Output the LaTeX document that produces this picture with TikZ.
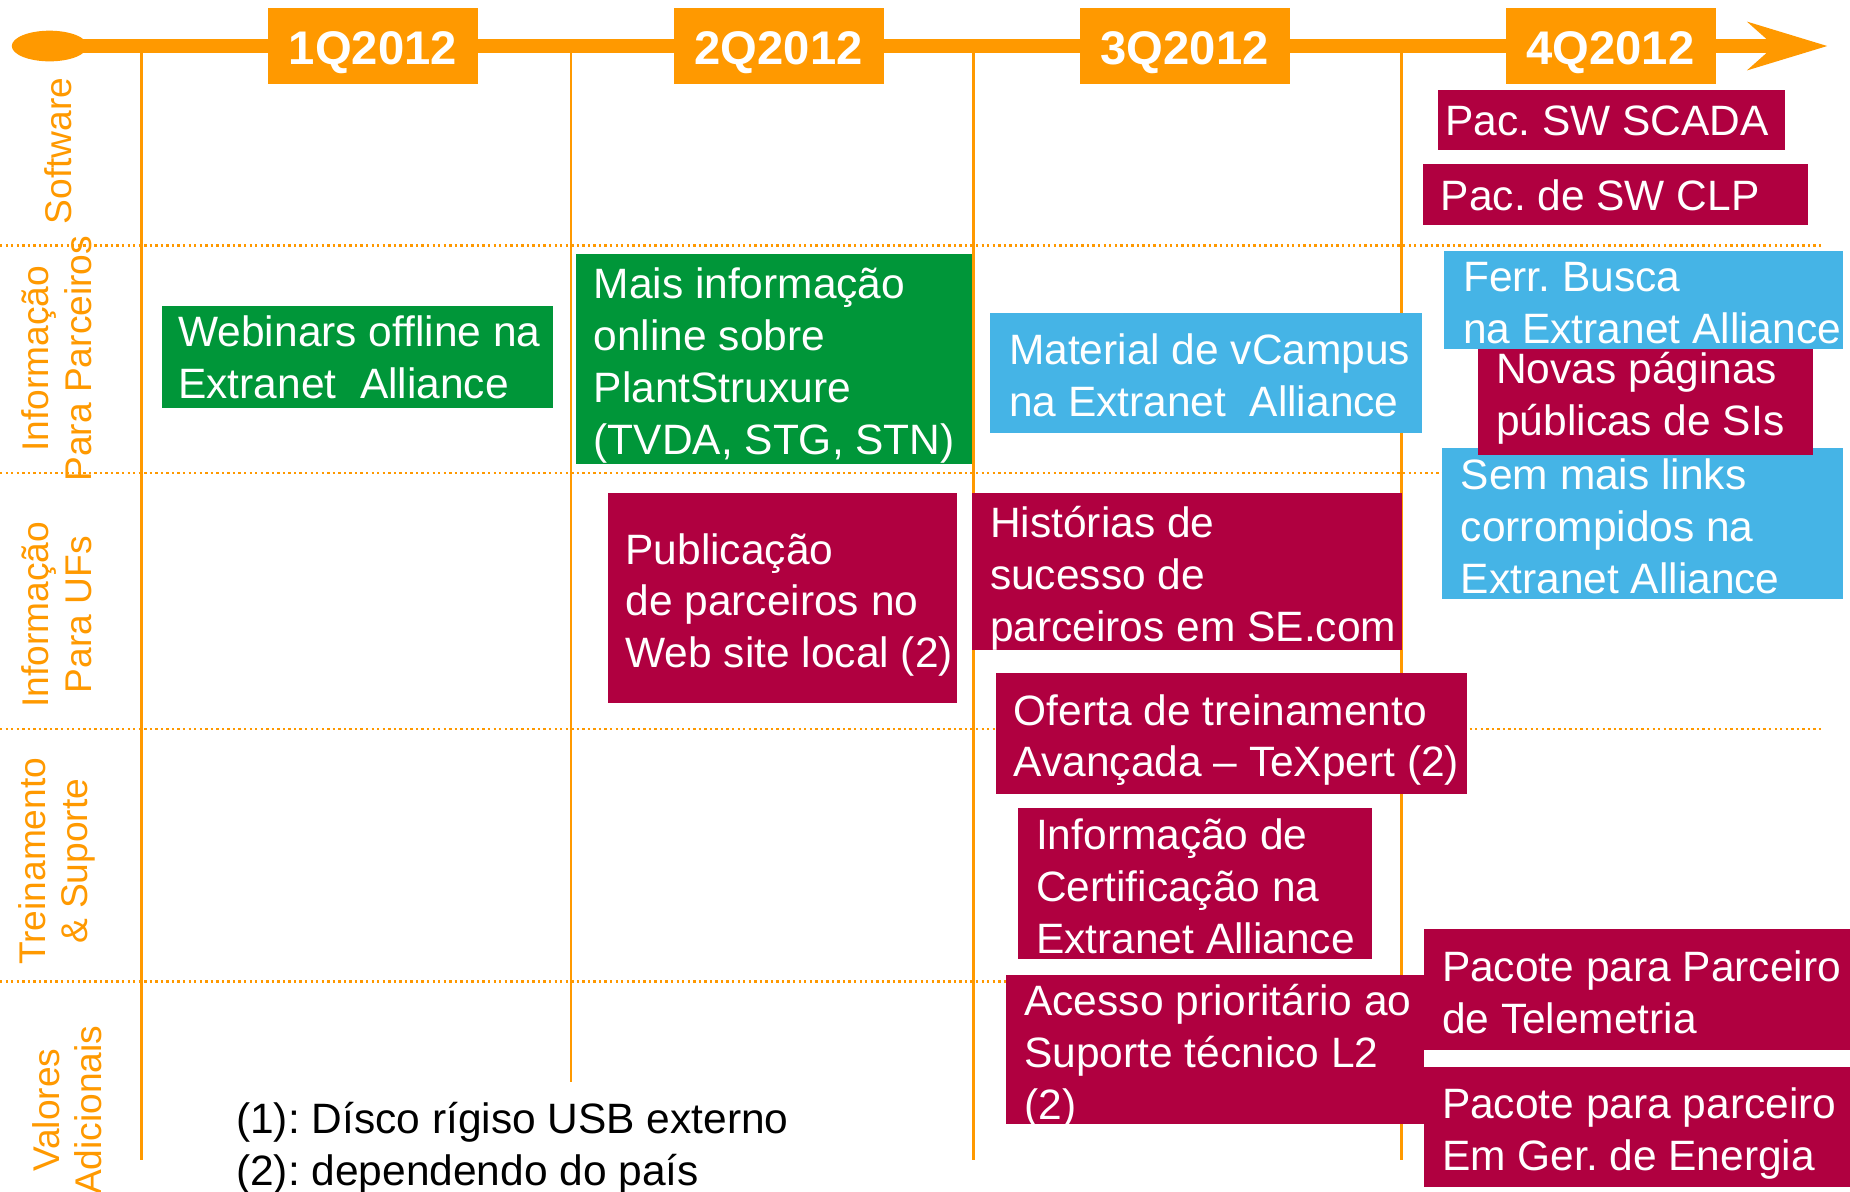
\documentclass[tikz,border=0pt]{standalone}
\usepackage{fontspec}
\setmainfont{Liberation Sans}
\usetikzlibrary{positioning}
\usetikzlibrary{shapes.geometric}
\usetikzlibrary{arrows.meta}
\frenchspacing

\definecolor{tlorange}{RGB}{255,153,0}
\definecolor{boxgreen}{RGB}{0,150,57}
\definecolor{boxred}{RGB}{176,0,64}
\definecolor{boxblue}{RGB}{69,180,230}
\newcommand\cardfont{\fontsize{36}{44}\selectfont}
\newcommand\rowfont{\fontsize{31.5}{36}\selectfont}

\tikzset{
 card/.style={anchor=north west, inner sep=0, outer sep=0},
 cardtxt/.style={align=left, inner sep=0, text=white, font=\cardfont, yshift=-7pt,
   execute at begin node={\rule{0pt}{36pt}}, execute at end node={\rule[-10pt]{0pt}{10pt}}},
 qbox/.style={fill=tlorange, text=white, font=\bfseries\fontsize{40}{48}\selectfont, minimum width=178, minimum height=65, inner sep=0, text height=31pt, text depth=0pt},
 rowlab/.style={rotate=90, align=center, inner sep=0, text=tlorange, font=\rowfont},
 vline/.style={tlorange, line width=2.4},
 rowsep/.style={tlorange, line width=2, dash pattern=on 2 off 2.7},
}

\begin{document}
\begin{tikzpicture}[x=1pt, y=-1pt]
\useasboundingbox (0,0) rectangle (1568,1010);
% grid of quarters and rows
\foreach \x/\e in {120/983, 484/917, 825/983, 1188/983}
 \draw[vline] (\x,39) -- (\x,\e);
\foreach \y in {208,401,618,832}
 \draw[rowsep] (0,\y) -- (1545,\y);
% time line
\node[ellipse, fill=tlorange, minimum width=64, minimum height=26, inner sep=0] (start) at (42,39) {};
\coordinate (tip) at (1549,39);
\draw[tlorange, line width=12.5, -{Stealth[length=67pt, width=40pt, inset=22pt]}] (start.center) -- (tip);
\foreach \q/\x in {1/316, 2/660, 3/1004, 4/1365}
 \node[qbox] (q\q) at (\x,39) {\q Q2012};
% row labels
\node[rowlab] (software) at (49,128) {Software};
\node[rowlab] (infopar) at (48,304) {Informação\\Para Parceiros};
\node[rowlab] (infouf) at (48,521) {Informação\\Para UFs};
\node[rowlab] (treino) at (48,730) {Treinamento\\\& Suporte};
\node[rowlab] (valores) at (57,941) {Valores\\Adicionais};
% boxes
\node[card, fill=boxgreen, minimum width=332, minimum height=87] (webinar) at (137,259) {};
\node[cardtxt, right=14pt of webinar.west, yshift=2pt] (webinar-t) {Webinars offline na\\Extranet\ \ Alliance};
\node[card, fill=boxgreen, minimum width=336, minimum height=178] (maisinfo) at (488,215) {};
\node[cardtxt, right=15pt of maisinfo.west] (maisinfo-t) {Mais informação\\online sobre\\PlantStruxure\\(TVDA, STG, STN)};
\node[card, fill=boxblue, minimum width=366, minimum height=102] (vcampus) at (839,265) {};
\node[cardtxt, right=16pt of vcampus.west] (vcampus-t) {Material de vCampus\\na Extranet\ \ Alliance};
\node[card, fill=boxred, minimum width=294, minimum height=51] (scada) at (1219,76) {};
\node[cardtxt, right=6pt of scada.west, yshift=7pt] (scada-t) {Pac. SW SCADA};
\node[card, fill=boxred, minimum width=326, minimum height=52] (clp) at (1206,139) {};
\node[cardtxt, right=15pt of clp.west, yshift=7pt] (clp-t) {Pac. de SW CLP};
\node[card, fill=boxblue, minimum width=338, minimum height=83] (busca) at (1224,213) {};
\node[cardtxt, right=16pt of busca.west] (busca-t) {Ferr. Busca\\na Extranet Alliance};
\node[card, fill=boxblue, minimum width=340, minimum height=128] (links) at (1222,380) {};
\node[cardtxt, right=16pt of links.west] (links-t) {Sem mais links\\corrompidos na\\Extranet Alliance};
\node[card, fill=boxred, minimum width=284, minimum height=90] (novas) at (1253,296) {};
\node[cardtxt, right=15pt of novas.west, yshift=9pt] (novas-t) {Novas páginas\\públicas de SIs};
\node[card, fill=boxred, minimum width=296, minimum height=178] (publica) at (515,418) {};
\node[cardtxt, right=15pt of publica.west] (publica-t) {Publicação\\de parceiros no\\Web site local (2)};
\node[card, fill=boxred, minimum width=364, minimum height=133] (historia) at (824,418) {};
\node[cardtxt, right=15pt of historia.west] (historia-t) {Histórias de\\sucesso de\\parceiros em SE.com};
\node[card, fill=boxred, minimum width=399, minimum height=103] (oferta) at (844,570) {};
\node[cardtxt, right=15pt of oferta.west] (oferta-t) {Oferta de treinamento\\Avançada – TeXpert (2)};
\node[card, fill=boxred, minimum width=300, minimum height=128] (certif) at (863,685) {};
\node[cardtxt, right=15pt of certif.west] (certif-t) {Informação de\\Certificação na\\Extranet Alliance};
\node[card, fill=boxred, minimum width=354, minimum height=127] (acesso) at (853,826) {};
\node[cardtxt, right=15pt of acesso.west] (acesso-t) {Acesso prioritário ao\\Suporte técnico L2\\(2)};
\node[card, fill=boxred, minimum width=363, minimum height=103] (telem) at (1207,787) {};
\node[cardtxt, right=15pt of telem.west] (telem-t) {Pacote para Parceiro\\de Telemetria};
\node[card, fill=boxred, minimum width=363, minimum height=102] (energia) at (1207,904) {};
\node[cardtxt, right=15pt of energia.west] (energia-t) {Pacote para parceiro\\Em Ger. de Energia};
% notes
\node[anchor=west, align=left, inner sep=0, font=\cardfont] (notas) at (200,973) {(1): Dísco rígiso USB externo\\(2): dependendo do país};
\end{tikzpicture}
\end{document}
